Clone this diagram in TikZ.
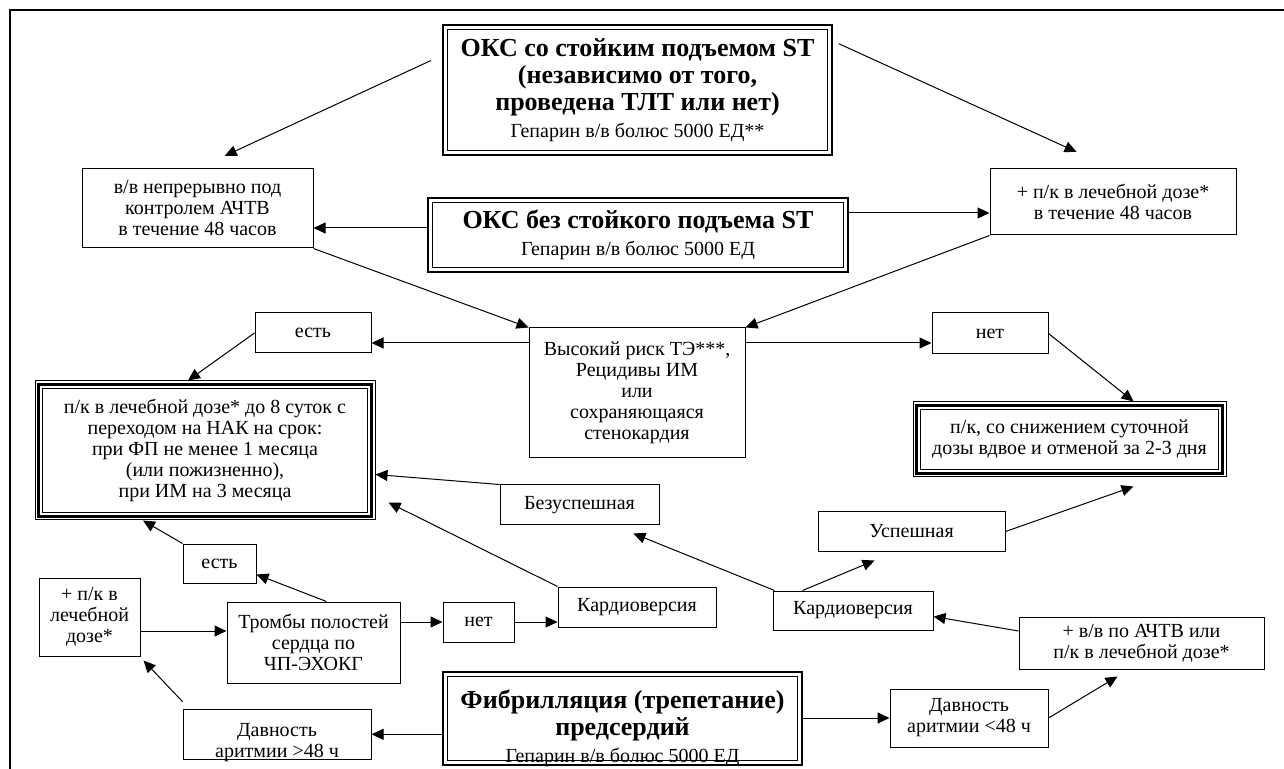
\documentclass[tikz,border=0pt]{standalone}
\usepackage{fontspec}
\setmainfont{Liberation Serif}
\usetikzlibrary{arrows.meta,calc}
\newcommand\bodyfont{\fontsize{10}{10.5}\selectfont\mdseries}
\newcommand\hdrfont{\fontsize{13}{13.5}\selectfont\bfseries}
\begin{document}
\begin{tikzpicture}[x=0.5pt,y=-0.5pt,
  cell/.style={draw,line width=0.5pt,align=center,inner sep=1pt,font=\bodyfont},
  dbl/.style={cell,line width=1.2pt,font=\hdrfont},
  arr/.style={-{Triangle[length=6pt,width=5.5pt]},line width=0.5pt}]
\useasboundingbox (0,0) rectangle (1284,769);
\draw[line width=0.6pt] (10,769) -- (10,10) -- (1284,10);
\node[dbl,minimum width=194.5pt,minimum height=65pt] (st) at (637.5,90)
  {ОКС со стойким подъемом ST\\(независимо от того,\\проведена ТЛТ или нет)\\{\bodyfont Гепарин в/в болюс 5000 ЕД**}};
\node[dbl,minimum width=210pt,minimum height=37pt] (nost) at (638,235)
  {ОКС без стойкого подъема ST\\{\bodyfont Гепарин в/в болюс 5000 ЕД}};
\node[cell,minimum width=115.5pt,minimum height=39.5pt] (vv) at (197.5,208.5)
  {в/в непрерывно под\\контролем АЧТВ\\в течение 48 часов};
\node[cell,minimum width=123pt,minimum height=33pt] (pk) at (1113,202)
  {+ п/к в лечебной дозе*\\в течение 48 часов};
\node[cell,minimum width=108pt,minimum height=65pt] (risk) at (637,393)
  {Высокий риск ТЭ***,\\Рецидивы ИМ\\или\\сохраняющаяся\\стенокардия};
\node[cell,minimum width=58pt,minimum height=20pt] (est1) at (313,333) {есть};
\node[cell,minimum width=58pt,minimum height=20.5pt] (net1) at (990,333.5) {нет};
\node[cell,minimum width=170pt,minimum height=69.5pt] (bigL) at (205,450.5)
  {п/к в лечебной дозе* до 8 суток с\\переходом на НАК на срок:\\при ФП не менее 1 месяца\\(или пожизненно),\\при ИМ на 3 месяца};
\node[cell,minimum width=156.5pt,minimum height=37.5pt] (bigR) at (1069.5,439.5)
  {п/к, со снижением суточной\\дозы вдвое и отменой за 2-3 дня};
\node[cell,minimum width=79.5pt,minimum height=20pt] (bez) at (579.5,505) {Безуспешная};
\node[cell,minimum width=93.5pt,minimum height=19.5pt] (usp) at (911.5,531.5) {Успешная};
\node[cell,minimum width=36.5pt,minimum height=19.5pt] (est2) at (219.5,563.5) {есть};
\node[cell,minimum width=50.5pt,minimum height=39pt] (pkl) at (89.5,617)
  {+ п/к в\\лечебной\\дозе*};
\node[cell,minimum width=86.5pt,minimum height=40.5pt] (tromb) at (313.5,642.5)
  {Тромбы полостей\\сердца по\\ЧП-ЭХОКГ};
\node[cell,minimum width=35.5pt,minimum height=20pt] (net2) at (478.5,622) {нет};
\node[cell,minimum width=79pt,minimum height=20pt] (kv1) at (637,607) {Кардиоверсия};
\node[cell,minimum width=80pt,minimum height=19.5pt] (kv2) at (853,610.5) {Кардиоверсия};
\node[cell,minimum width=122.5pt,minimum height=26pt] (pva) at (1141.5,643)
  {+ в/в по АЧТВ или\\п/к в лечебной дозе*};
\node[cell,minimum width=79pt,minimum height=29pt] (d48l) at (969,718)
  {Давность\\аритмии <48 ч};
\node[cell,minimum width=94pt,anchor=south] (d48g) at (277,760)
  {\rule{0pt}{12.7pt}Давность\\\raisebox{0pt}[\height][0pt]{аритмии >48 ч}};
\node[dbl,minimum width=179.5pt,anchor=south] (fib) at (622.5,766)
  {\rule{0pt}{17.5pt}Фибрилляция (трепетание)\\предсердий\\\raisebox{0pt}[\height][0pt]{\bodyfont Гепарин в/в болюс 5000 ЕД}};
\foreach \n in {st,nost,fib}
  \draw[line width=0.5pt] ([shift={(5.5,5.5)}]\n.north west) rectangle ([shift={(-5.5,-5.5)}]\n.south east);
\foreach \n in {bigL,bigR} {
  \draw[line width=1.2pt] ([shift={(4,4)}]\n.north west) rectangle ([shift={(-4,-4)}]\n.south east);
  \draw[line width=0.5pt] ([shift={(8,8)}]\n.north west) rectangle ([shift={(-8,-8)}]\n.south east);
}
\draw[arr,shorten <=6pt,shorten >=15pt] (st.170) -- (vv.north);
\draw[arr,shorten <=3pt,shorten >=20pt] (st.14) -- (pk.north);
\draw[arr] ([yshift=3.5pt]nost.west) -- ([yshift=3.5pt]nost.west -| vv.east);
\draw[arr] ([yshift=11pt]nost.east) -- ([yshift=11pt]nost.east -| pk.west);
\draw[arr] (vv.south east) -- (risk.north west);
\draw[arr] (pk.south west) -- (risk.north east);
\draw[arr] ([yshift=-5pt]est1.east -| risk.west) -- ([yshift=-5pt]est1.east);
\draw[arr] ([yshift=-5pt]est1.east -| risk.east) -- ([yshift=-5pt]est1.east -| net1.west);
\draw[arr] (est1.west) -- ([xshift=-8.5pt]bigL.north);
\draw[arr] (net1.east) -- ([xshift=32pt]bigR.north);
\draw[arr] (bez.north west) -- ([yshift=-12pt]bigL.east);
\draw[arr] (kv1.north west) -- ($(bigL.south east)+(13,-18)$);
\draw[arr] ([xshift=1pt]kv2.north west) -- ($(bez.south east)+(-26,8)$);
\draw[arr] ([xshift=15pt]kv2.north west) -- ($(usp.south west)+(57,9)$);
\draw[arr] (usp.east) -- ($(bigR.south)+(64,9)$);
\draw[arr] ([yshift=6pt]pva.west) -- ([yshift=-3pt]kv2.east);
\draw[arr] (d48l.east) -- ($(pva.south)+(-24,7)$);
\draw[arr] (fib.east |- d48l.west) -- (d48l.west);
\draw[arr] (fib.west |- d48g.east) -- (d48g.east);
\draw[arr] ($(d48g.north west)+(0,-7)$) -- ($(pkl.south east)+(3,4)$);
\draw[arr] ([yshift=-7pt]pkl.east) -- ([yshift=-7pt]pkl.east -| tromb.west);
\draw[arr] ([xshift=6.5pt]tromb.north) -- ([yshift=-5.5pt]est2.east);
\draw[arr] (est2.north west) -- ([xshift=-31pt]bigL.south);
\draw[arr] (tromb.east |- net2.west) -- (net2.west);
\draw[arr] (net2.east) -- (net2.east -| kv1.west);
\end{tikzpicture}
\end{document}
